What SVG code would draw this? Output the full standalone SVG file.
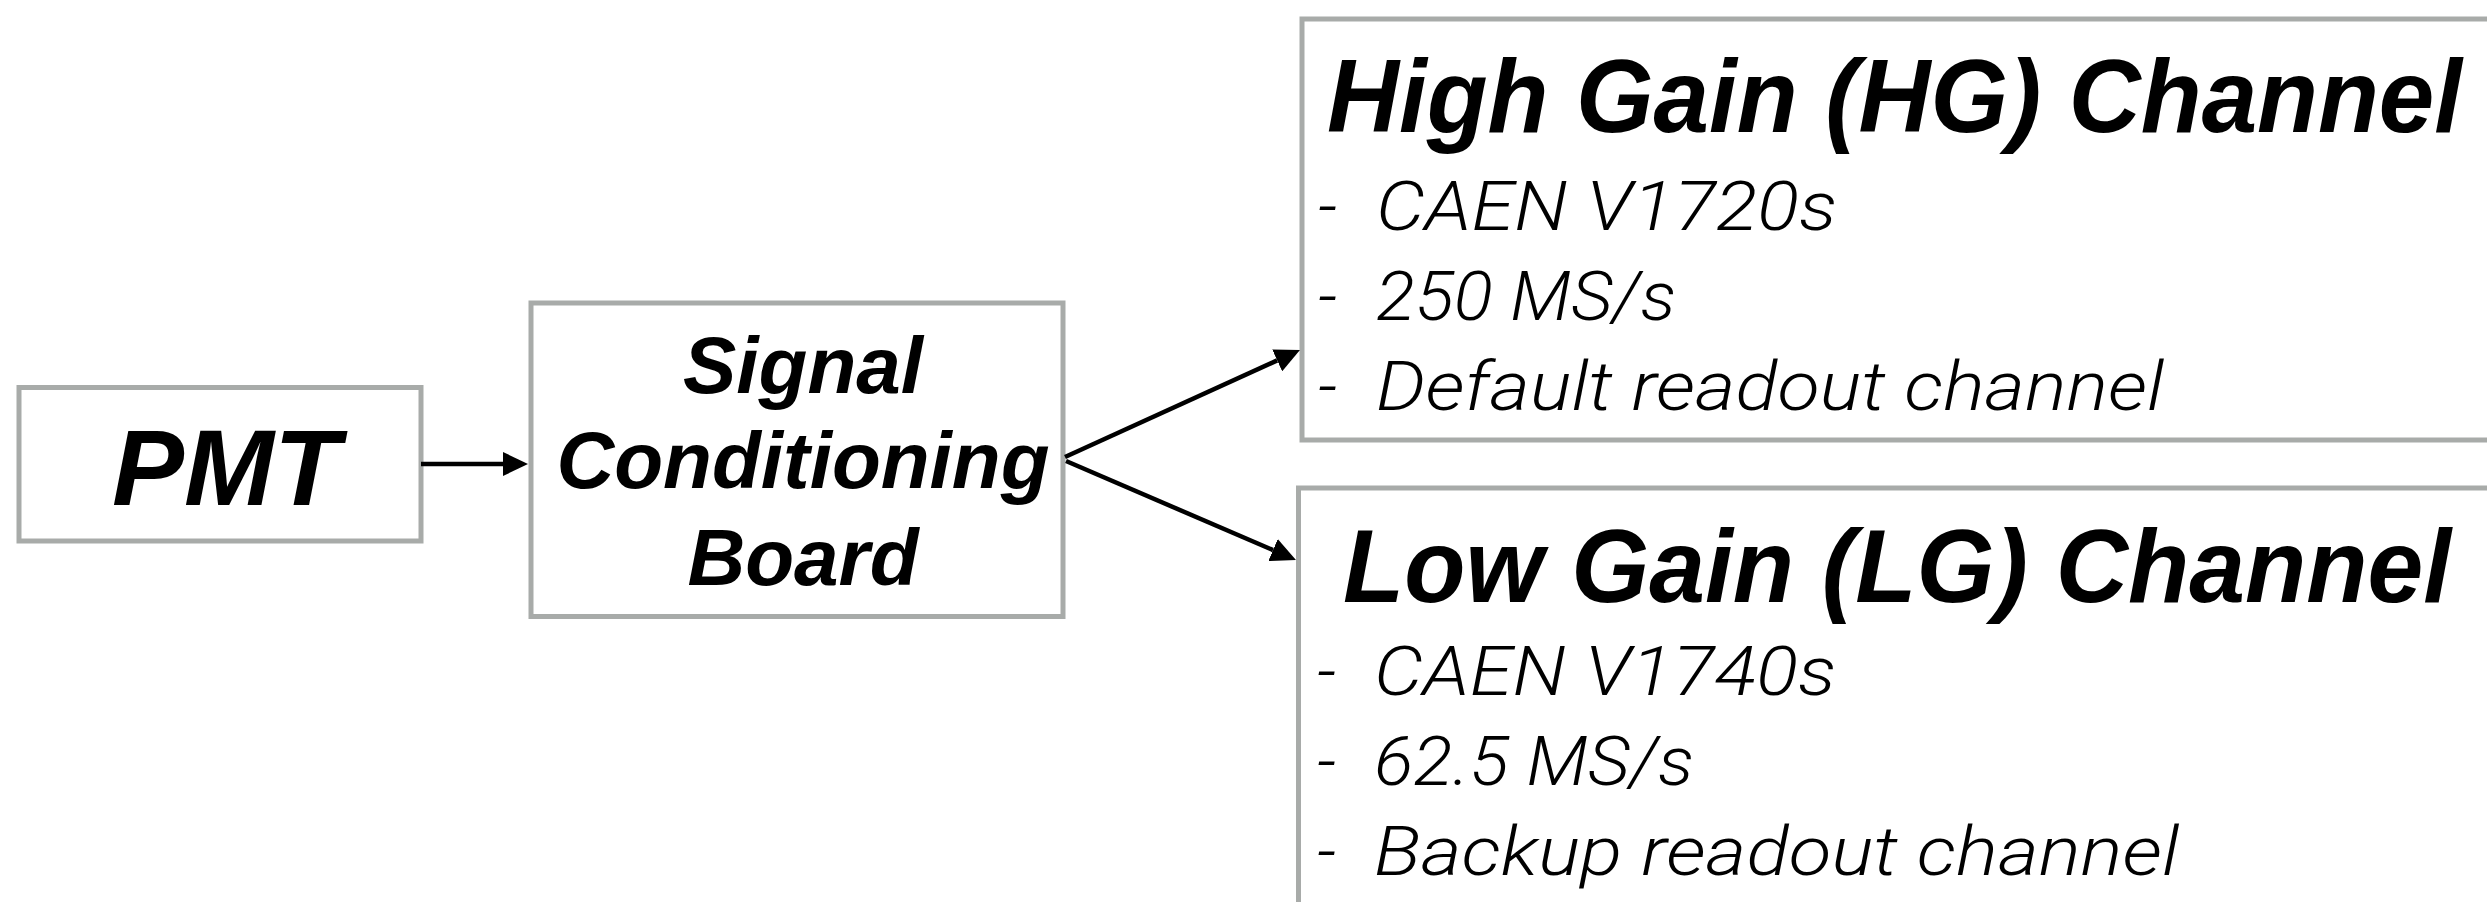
<svg xmlns="http://www.w3.org/2000/svg" width="2487" height="902" viewBox="0 0 2487 902">
<style>
.box{fill:#ffffff;stroke:#a8aba9;stroke-width:5}
.conn{stroke:#000000;stroke-width:4.5;fill:none}
.title{font-family:"Liberation Sans",Arial,sans-serif;font-weight:bold;font-style:italic;fill:#000}
.bul{font-family:Roboto,"Liberation Sans",Arial,sans-serif;font-weight:300;font-style:italic;font-size:68px;fill:#000}
</style>
<defs>
<marker id="ah" markerUnits="userSpaceOnUse" markerWidth="25" markerHeight="24" refX="0" refY="12" orient="auto" viewBox="0 0 25 24">
<path d="M0,0 L25,12 L0,24 z" fill="#000"/>
</marker>
</defs>
<rect width="2487" height="902" fill="#ffffff"/>
<g id="pmt">
<rect class="box" x="19" y="387.5" width="402" height="153.5"/>
<text class="title" x="226" y="505" font-size="108" text-anchor="middle">PMT</text>
</g>
<g id="scb">
<rect class="box" x="531" y="303" width="532" height="313.5"/>
<text class="title" font-size="80" text-anchor="middle"><tspan x="803" y="393">Signal</tspan><tspan x="803" y="488">Conditioning</tspan><tspan x="803" y="585">Board</tspan></text>
</g>
<g id="hg">
<rect class="box" x="1302" y="19" width="1200" height="421"/>
<text class="title" x="1327" y="132" font-size="103" textLength="1135" lengthAdjust="spacingAndGlyphs">High Gain (HG) Channel</text>
<text class="bul"><tspan x="1318" y="230">-</tspan><tspan x="1376" y="230" textLength="461" lengthAdjust="spacingAndGlyphs">CAEN V1720s</tspan></text>
<text class="bul"><tspan x="1318" y="320">-</tspan><tspan x="1376" y="320" textLength="300" lengthAdjust="spacingAndGlyphs">250 MS/s</tspan></text>
<text class="bul"><tspan x="1318" y="410">-</tspan><tspan x="1376" y="410" textLength="788" lengthAdjust="spacingAndGlyphs">Default readout channel</tspan></text>
</g>
<g id="lg">
<rect class="box" x="1298.5" y="488" width="1200" height="430"/>
<text class="title" x="1343" y="602" font-size="103" textLength="1108" lengthAdjust="spacingAndGlyphs">Low Gain (LG) Channel</text>
<text class="bul"><tspan x="1317" y="695">-</tspan><tspan x="1374" y="695" textLength="462" lengthAdjust="spacingAndGlyphs">CAEN V1740s</tspan></text>
<text class="bul"><tspan x="1317" y="785">-</tspan><tspan x="1374" y="785" textLength="320" lengthAdjust="spacingAndGlyphs">62.5 MS/s</tspan></text>
<text class="bul"><tspan x="1317" y="875">-</tspan><tspan x="1374" y="875" textLength="805" lengthAdjust="spacingAndGlyphs">Backup readout channel</tspan></text>
</g>
<g id="connectors">
<line class="conn" x1="421" y1="464" x2="503" y2="464" marker-end="url(#ah)"/>
<line class="conn" x1="1065" y1="457" x2="1277.2" y2="360.4" marker-end="url(#ah)"/>
<line class="conn" x1="1066" y1="461" x2="1273" y2="550.1" marker-end="url(#ah)"/>
</g>
</svg>
